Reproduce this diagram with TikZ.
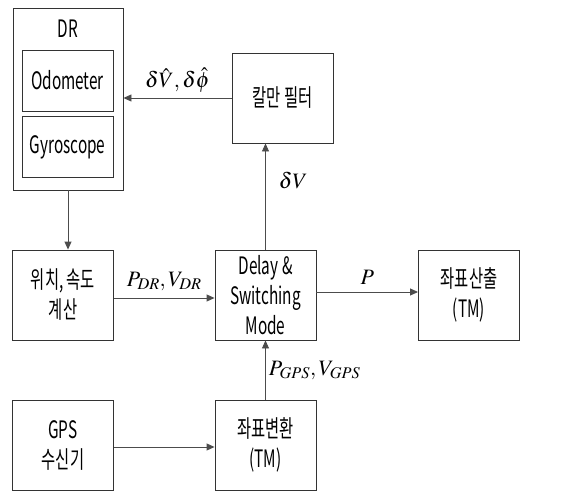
\documentclass[tikz,border=0pt]{standalone}
\usepackage{mathptmx}
\usepackage{fontspec}
\setmainfont{Noto Sans CJK KR}[FakeStretch=0.64]
\usetikzlibrary{arrows.meta, positioning}

\begin{document}
\begin{tikzpicture}[
  x=1pt, y=-1pt,
  block/.style={rectangle, draw=black!80, line width=0.9pt, align=center,
                font=\fontsize{24}{30}\selectfont, inner sep=0pt,
                minimum width=101pt, minimum height=90pt},
  sub/.style={block, minimum width=91pt, minimum height=61pt},
  arrow/.style={-{Triangle[length=8pt, width=7pt]}, draw=black!70, line width=0.9pt},
  lbl/.style={font=\fontsize{22}{24}\selectfont, inner sep=1pt},
]
\useasboundingbox (0,0) rectangle (565,493);
% DR unit with its sensors
\node[block, minimum width=110pt, minimum height=182pt] (dr) at (68,99) {};
\node[font=\fontsize{24}{26}\selectfont] (drlabel) at (68,29) {DR};
\node[sub] (odo)  at (67.5,80.5) {Odometer};
\node[sub] (gyro) at (67.5,147)  {Gyroscope};
% blocks
\node[block] (kalman) at (282.5,98) {칼만 필터};
\node[block] (calc)   at (63,295)    {위치, 속도\\계산};
\node[block] (delay)  at (265.5,295) {Delay \&\\Switching\\Mode};
\node[block] (tmout)  at (469,295)   {좌표산출\\(TM)};
\node[block] (gps)    at (63,445)    {GPS\\수신기};
\node[block] (tmconv) at (265.5,445) {좌표변환\\(TM)};
% connectors
\draw[arrow] (dr.south) -- (dr.south |- calc.north);
\draw[arrow] (kalman.west) -- (kalman.west -| dr.east)
  node[lbl, midway, above=4pt] {$\delta\hat{V},\delta\hat{\phi}$};
\draw[arrow] (delay.north) -- (delay.north |- kalman.south)
  node[lbl, pos=0.65, right=12pt] {$\delta V$};
\draw[arrow] ([yshift=-3pt]calc.east) -- ([yshift=-3pt]delay.west)
  node[lbl, midway, above=6pt] {$P_{DR},V_{DR}$};
\draw[arrow] ([yshift=3pt]delay.east) -- ([yshift=3pt]tmout.west)
  node[lbl, midway, above=6pt] {$P$};
\draw[arrow] ([yshift=-2pt]gps.east) -- ([yshift=-2pt]tmconv.west);
\draw[arrow] (tmconv.north) -- (tmconv.north |- delay.south)
  node[lbl, midway, right=2pt] {$P_{GPS},V_{GPS}$};
\end{tikzpicture}
\end{document}
